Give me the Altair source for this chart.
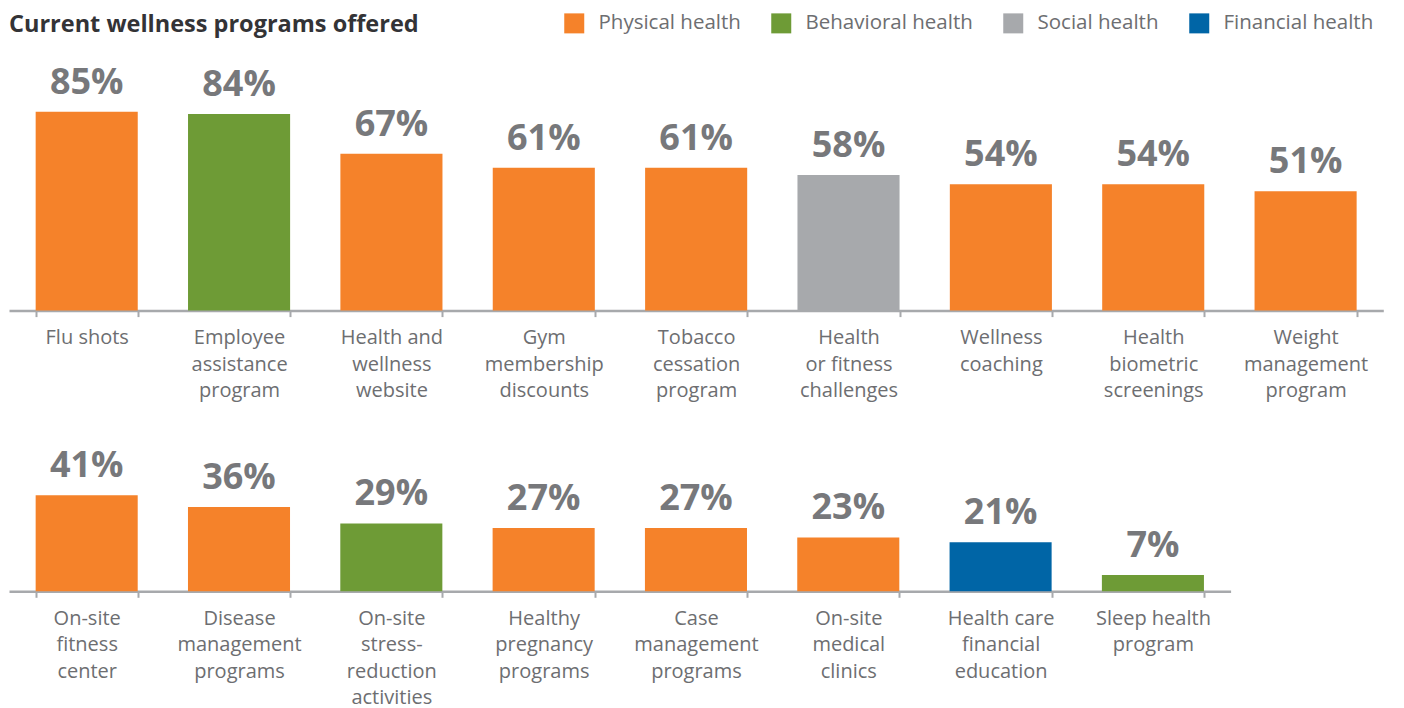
import altair as alt
import pandas as pd

# ---- data ----
top_programs = ["Flu shots", "Employee|assistance|program", "Health and|wellness|website",
                "Gym|membership|discounts", "Tobacco|cessation|program", "Health|or fitness|challenges",
                "Wellness|coaching", "Health|biometric|screenings", "Weight|management|program"]
top_values = [85, 84, 67, 61, 61, 58, 54, 54, 51]
top_types = ["Physical health", "Behavioral health", "Physical health", "Physical health",
             "Physical health", "Social health", "Physical health", "Physical health", "Physical health"]

bottom_programs = ["On-site|fitness|center", "Disease|management|programs",
                   "On-site|stress-|reduction|activities", "Healthy|pregnancy|programs",
                   "Case|management|programs", "On-site|medical|clinics",
                   "Health care|financial|education", "Sleep health|program"]
bottom_values = [41, 36, 29, 27, 27, 23, 21, 7]
bottom_types = ["Physical health", "Physical health", "Behavioral health", "Physical health",
                "Physical health", "Physical health", "Financial health", "Behavioral health"]

type_names = ["Physical health", "Behavioral health", "Social health", "Financial health"]
type_colors = ["#F5822A", "#6E9B36", "#A7A9AC", "#0065A6"]

FONT = "Open Sans"
BAND = 152.7
PX_PER_PCT = 2.34


def row(programs, values, types, ymax):
    df = pd.DataFrame({"program": programs, "value": values, "type": types})
    df["label"] = df["value"].astype(str) + "%"
    x = alt.X("program:N", sort=None,
              scale=alt.Scale(paddingInner=0.33, paddingOuter=0.175),
              axis=alt.Axis(title=None, labelAngle=0, labelExpr="split(datum.label, '|')",
                            tickBand="extent", tickSize=6, tickWidth=2, tickColor="#A7A9AC",
                            domainColor="#A7A9AC", domainWidth=2.5, labelPadding=11,
                            labelFontSize=20, labelFont=FONT, labelColor="#6D6E71",
                            labelLineHeight=26.5))
    y = alt.Y("value:Q", scale=alt.Scale(domain=[0, ymax], nice=False, zero=True), axis=None)
    base = alt.Chart(df).encode(x=x, y=y)
    bars = base.mark_bar().encode(
        color=alt.Color("type:N", scale=alt.Scale(domain=type_names, range=type_colors),
                        legend=alt.Legend(title=None))
    )
    text = base.mark_text(baseline="bottom", dy=-10, fontSize=36, fontWeight="bold",
                          font=FONT, color="#77787B").encode(text="label:N")
    return alt.layer(bars, text).properties(width=BAND * len(programs),
                                            height=PX_PER_PCT * ymax)


top = row(top_programs, top_values, top_types, 90)
bottom = row(bottom_programs, bottom_values, bottom_types, 45)

chart = alt.vconcat(top, bottom, spacing=47).resolve_scale(x="independent").properties(
    title=alt.TitleParams("Current wellness programs offered", anchor="start", fontSize=23.5,
                          font=FONT, fontWeight="bold", color="#333336", offset=-23),
    padding={"left": 1, "top": 4, "right": 5, "bottom": 3},
).configure_view(stroke=None).configure_legend(
    orient="none", legendX=555, legendY=-87, direction="horizontal",
    symbolType="square", symbolSize=400, symbolStrokeWidth=0, symbolOpacity=1,
    labelFontSize=20.5, labelFont=FONT, labelColor="#6D6E71", labelOffset=14,
    columnPadding=30, labelLimit=300,
)

chart.save("out.html", embed_options={"renderer": "svg", "actions": False})
